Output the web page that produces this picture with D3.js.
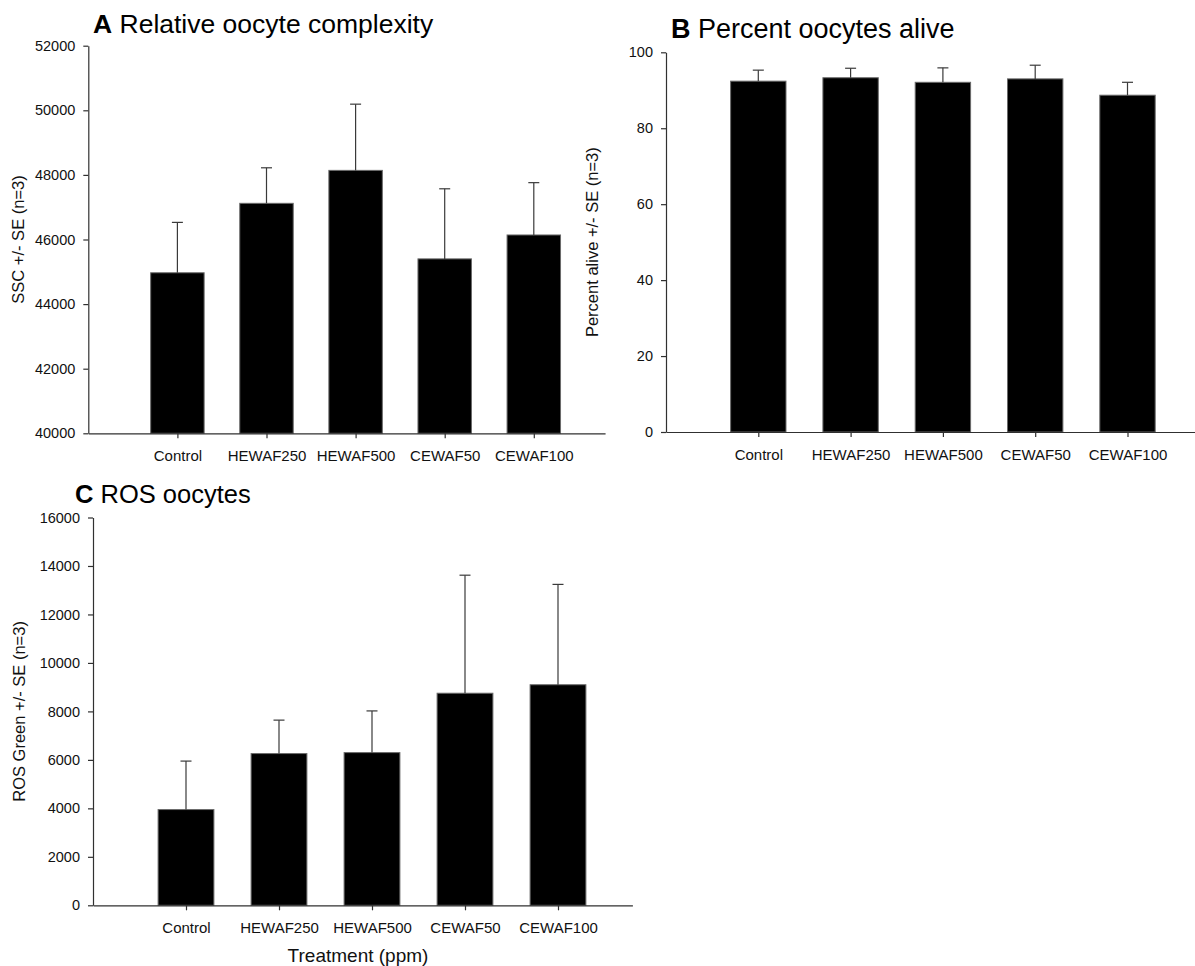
<!DOCTYPE html>
<html>
<head>
<meta charset="utf-8">
<script src="https://cdn.jsdelivr.net/npm/d3@7"></script>
<style>
  html, body { margin: 0; padding: 0; background: #fff; }
  svg { display: block; font-family: "Liberation Sans", Arial, Helvetica, sans-serif; }
</style>
</head>
<body>
<svg id="fig" width="1195" height="966"></svg>
<script>
// Treatment groups shared by all three panels
const treatments = ["Control", "HEWAF250", "HEWAF500", "CEWAF50", "CEWAF100"];

// Panel A: side scatter (relative complexity), mean and mean + SE
const sscMean = [44970, 47120, 48140, 45400, 46140];
const sscUpper = [46530, 48220, 50190, 47570, 47760];
const sscTicks = [40000, 42000, 44000, 46000, 48000, 50000, 52000];

// Panel B: percent of oocytes alive
const aliveMean = [92.4, 93.3, 92.1, 93.0, 88.7];
const aliveUpper = [95.3, 95.8, 95.9, 96.6, 92.1];
const aliveTicks = [0, 20, 40, 60, 80, 100];

// Panel C: ROS green fluorescence
const rosMean = [3950, 6260, 6300, 8750, 9100];
const rosUpper = [5950, 7640, 8020, 13620, 13240];
const rosTicks = [0, 2000, 4000, 6000, 8000, 10000, 12000, 14000, 16000];

const svg = d3.select("#fig");
svg.append("rect").attr("width", 1195).attr("height", 966).attr("fill", "#fff");

const AXIS = "#303030";
const ERR = "#3a3a3a";

function panel(opt) {
  const g = svg.append("g");

  // category positions: index -1 sits on the y axis, the x axis runs past the last group
  const x = d3.scaleLinear().domain([-1, 4.8]).range([opt.left, opt.left + 5.8 * opt.step]);
  const y = d3.scaleLinear().domain(opt.domain).range([opt.bottom, opt.top]);
  const barW = 0.6 * opt.step;
  const idx = treatments.map((d, i) => i);

  // bars
  g.selectAll("rect.bar").data(idx).enter().append("rect")
    .attr("class", "bar")
    .attr("x", i => x(i) - barW / 2)
    .attr("width", barW)
    .attr("y", i => y(opt.mean[i]))
    .attr("height", i => y(opt.domain[0]) - y(opt.mean[i]))
    .attr("fill", "#000")
    .attr("stroke", "#6a6a6a")
    .attr("stroke-width", 1);

  // upper error bars
  const capW = 11;
  g.selectAll("line.err").data(idx).enter().append("line")
    .attr("class", "err")
    .attr("x1", i => x(i)).attr("x2", i => x(i))
    .attr("y1", i => y(opt.mean[i])).attr("y2", i => y(opt.upper[i]))
    .attr("stroke", ERR).attr("stroke-width", 1.2);
  g.selectAll("line.cap").data(idx).enter().append("line")
    .attr("class", "cap")
    .attr("x1", i => x(i) - capW / 2).attr("x2", i => x(i) + capW / 2)
    .attr("y1", i => y(opt.upper[i])).attr("y2", i => y(opt.upper[i]))
    .attr("stroke", ERR).attr("stroke-width", 1.2);

  // y axis
  const yAxis = g.append("g")
    .attr("transform", `translate(${opt.left},0)`)
    .call(d3.axisLeft(y).tickValues(opt.ticks).tickSize(5).tickPadding(8)
      .tickFormat(d3.format("d")).tickSizeOuter(0));
  yAxis.select(".domain").attr("stroke", AXIS).attr("stroke-width", 1.2);
  yAxis.selectAll(".tick line").attr("stroke", AXIS).attr("stroke-width", 1.2);
  yAxis.selectAll(".tick text").attr("fill", "#111").style("font-size", "14.5px");

  // x axis
  const xAxis = g.append("g")
    .attr("transform", `translate(0,${opt.bottom})`)
    .call(d3.axisBottom(x).tickValues(idx).tickSize(5).tickPadding(12)
      .tickFormat(i => treatments[i]).tickSizeOuter(0));
  xAxis.select(".domain").attr("stroke", AXIS).attr("stroke-width", 1.2);
  xAxis.selectAll(".tick line").attr("stroke", AXIS).attr("stroke-width", 1.2);
  xAxis.selectAll(".tick text").attr("fill", "#111").style("font-size", "15px");

  // y axis title
  g.append("text")
    .attr("transform", `translate(${opt.yTitleX},${(opt.top + opt.bottom) / 2}) rotate(-90)`)
    .attr("text-anchor", "middle")
    .attr("dominant-baseline", "central")
    .style("font-size", "16.5px")
    .attr("fill", "#111")
    .text(opt.yTitle);

  // panel title: bold letter followed by the plain title
  const t = g.append("text")
    .attr("x", opt.titleX).attr("y", opt.titleY)
    .style("font-size", opt.titleSize + "px").attr("fill", "#000");
  t.append("tspan").style("font-weight", "bold").text(opt.letter);
  t.append("tspan").text(" " + opt.title);

  return { x, y };
}

panel({
  letter: "A", title: "Relative oocyte complexity", titleX: 93, titleY: 33, titleSize: 26.5,
  left: 88.3, step: 89.1, top: 45.7, bottom: 433.3,
  domain: [40000, 52000], ticks: sscTicks, mean: sscMean, upper: sscUpper,
  yTitle: "SSC +/- SE (n=3)", yTitleX: 18
});

panel({
  letter: "B", title: "Percent oocytes alive", titleX: 671, titleY: 38, titleSize: 27,
  left: 666, step: 92.3, top: 52.3, bottom: 432,
  domain: [0, 100], ticks: aliveTicks, mean: aliveMean, upper: aliveUpper,
  yTitle: "Percent alive +/- SE (n=3)", yTitleX: 592
});

panel({
  letter: "C", title: "ROS oocytes", titleX: 75, titleY: 503, titleSize: 25.5,
  left: 93, step: 93, top: 517.5, bottom: 905.3,
  domain: [0, 16000], ticks: rosTicks, mean: rosMean, upper: rosUpper,
  yTitle: "ROS Green +/- SE (n=3)", yTitleX: 19
});

// shared x axis title under panel C
svg.append("text")
  .attr("x", 358).attr("y", 962)
  .attr("text-anchor", "middle")
  .style("font-size", "19px")
  .attr("fill", "#111")
  .text("Treatment (ppm)");
</script>
</body>
</html>
